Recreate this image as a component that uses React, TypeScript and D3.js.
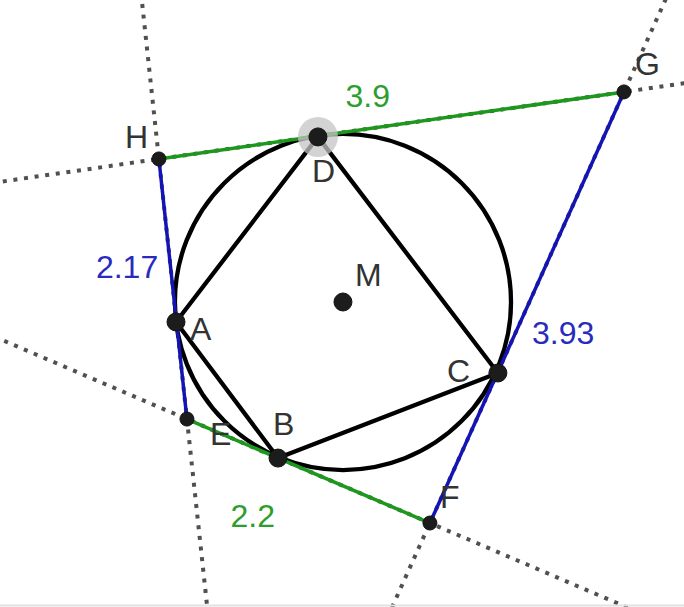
import React from 'react';
import * as d3 from 'd3';

// point coordinates in drawing units
const pointNames = ['H', 'D', 'G', 'A', 'E', 'B', 'C', 'F', 'M'];
const pointX = [-1.53, -0.208, 2.336, -1.388, -1.297, -0.54, 1.288, 0.723, 0];
const pointY = [1.189, 1.372, 1.746, -0.166, -0.973, -1.297, -0.59, -1.837, 0];
const bigPoints = ['A', 'B', 'C', 'D', 'M'];
const circleRadius = 1.397;

// tangent segments of the outer quadrilateral with their lengths
const sideFrom = ['H', 'G', 'F', 'E'];
const sideTo = ['G', 'F', 'E', 'H'];
const sideLabels = ['3.9', '3.93', '2.2', '2.17'];
const sideKinds = ['green', 'blue', 'green', 'blue'];

const inner = ['A', 'B', 'C', 'D'];

const W = 684;
const H = 607;

const colors: Record<string, string> = { green: '#1c981c', blue: '#1414b4' };
const textColors: Record<string, string> = { green: '#2c9e2c', blue: '#2a2abd' };

// label offsets in px relative to their anchor
const labelOffsets: Record<string, [number, number]> = {
  H: [-34, -11], D: [-6, 45], G: [11, -17], A: [14, 18], E: [23, 26],
  B: [-5, -23], C: [-51, 9], F: [10, -15], M: [12, -16],
};
const sideOffsets: Record<string, [number, number]> = {
  '3.9': [-46, -18], '3.93': [5, 37], '2.2': [-78, 56], '2.17': [-77, -11],
};

export default function App() {
  const x = d3.scaleLinear().domain([-2.851, 2.835]).range([0, W]);
  const y = d3.scaleLinear().domain([2.51, -2.535]).range([0, H]);
  const pos: Record<string, [number, number]> = {};
  pointNames.forEach((n, i) => { pos[n] = [pointX[i], pointY[i]]; });
  const px = (n: string): [number, number] => [x(pos[n][0]), y(pos[n][1])];
  const rPx = x(circleRadius) - x(0);

  const line = d3.line<[number, number]>().x(d => x(d[0])).y(d => y(d[1]));
  const quad = line.curve(d3.curveLinearClosed)(inner.map(n => pos[n]));

  const extended = sideFrom.map((f, i) => {
    const p = pos[f], q = pos[sideTo[i]];
    const a: [number, number] = [p[0] - 3 * (q[0] - p[0]), p[1] - 3 * (q[1] - p[1])];
    const b: [number, number] = [p[0] + 4 * (q[0] - p[0]), p[1] + 4 * (q[1] - p[1])];
    return d3.line<[number, number]>().x(d => x(d[0])).y(d => y(d[1]))([a, b]);
  });

  const font = '"Liberation Sans", Arial, sans-serif';

  return (
    <svg width={W} height={H} style={{ position: 'fixed', left: 0, top: 0, background: '#fff' }}>
      <defs>
        <clipPath id="clip"><rect x={0} y={0} width={W} height={H} /></clipPath>
      </defs>
      <g clipPath="url(#clip)">
        {extended.map((d, i) => (
          <path key={i} d={d || ''} stroke="#505050" strokeWidth={4} strokeDasharray="4 6.7" fill="none" />
        ))}
        <circle cx={x(0)} cy={y(0)} r={rPx} fill="none" stroke="#000" strokeWidth={4.3} />
        <path d={quad || ''} fill="none" stroke="#000" strokeWidth={4.3} strokeLinejoin="round" />
        {sideFrom.map((f, i) => {
          const [x1, y1] = px(f), [x2, y2] = px(sideTo[i]);
          return <line key={f} x1={x1} y1={y1} x2={x2} y2={y2} stroke={colors[sideKinds[i]]} strokeWidth={3.5} />;
        })}
        <circle cx={px('D')[0]} cy={px('D')[1]} r={20} fill="#c4c4c4" opacity={0.75} />
        {pointNames.map(n => {
          const [cx, cy] = px(n);
          return <circle key={n} cx={cx} cy={cy} r={bigPoints.includes(n) ? 9 : 7} fill="#1c1c1c" stroke="#111" strokeWidth={1} />;
        })}
        {pointNames.map(n => {
          const [cx, cy] = px(n);
          const [dx, dy] = labelOffsets[n];
          return (
            <text key={'l' + n} x={cx + dx} y={cy + dy} fontFamily={font} fontSize={32} fill="#333">{n}</text>
          );
        })}
        {sideFrom.map((f, i) => {
          const [x1, y1] = px(f), [x2, y2] = px(sideTo[i]);
          const [dx, dy] = sideOffsets[sideLabels[i]];
          return (
            <text key={'s' + i} x={(x1 + x2) / 2 + dx} y={(y1 + y2) / 2 + dy} fontFamily={font} fontSize={32}
              fill={textColors[sideKinds[i]]}>{sideLabels[i]}</text>
          );
        })}
        <line x1={0} y1={H - 1.5} x2={W} y2={H - 1.5} stroke="#e2e2e2" strokeWidth={2} />
      </g>
    </svg>
  );
}
